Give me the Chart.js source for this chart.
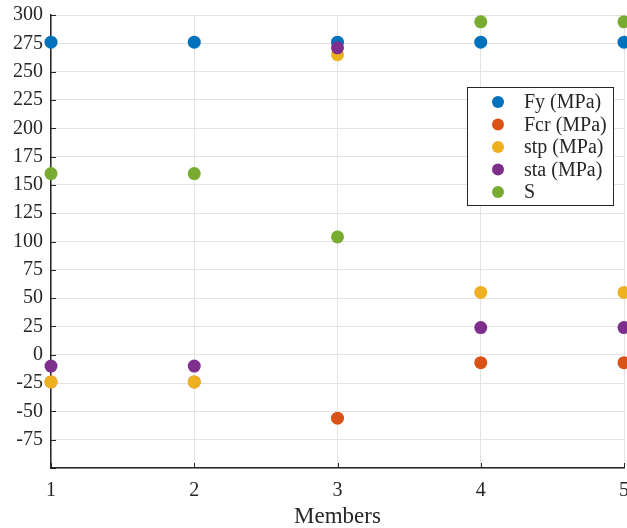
<!DOCTYPE html>
<html>
<head>
<meta charset="utf-8">
<script src="https://cdn.jsdelivr.net/npm/chart.js@4"></script>
<style>
  html, body { margin: 0; padding: 0; background: #fff; }
  #wrap { width: 627px; height: 528px; }
</style>
</head>
<body>
<div id="wrap"><canvas id="memberChart" width="627" height="528"></canvas></div>
<script>
const members = [1, 2, 3, 4, 5];
const fy = [276, 276, 276, 276, 276];
const fcr = [-24, -24, -56, -7, -7];
const stp = [-24, -24, 265, 55, 55];
const sta = [-10, -10, 271, 24, 24];
const sVals = [160, 160, 104, 294, 294];

const seriesNames = ["Fy (MPa)", "Fcr (MPa)", "stp (MPa)", "sta (MPa)", "S"];
const seriesColors = ["#0072BD", "#D95319", "#EDB120", "#7E2F8E", "#77AC30"];
const seriesData = [fy, fcr, stp, sta, sVals];

const FONT = "'Liberation Serif', 'DejaVu Serif', serif";
const TEXT = "#262626";

// tick kecil ke dalam, gaya MATLAB (di bawah titik data)
const innerTicks = {
  id: "innerTicks",
  beforeDatasetsDraw(chart) {
    const { ctx, chartArea, scales } = chart;
    ctx.save();
    ctx.strokeStyle = TEXT;
    ctx.lineWidth = 1;
    ctx.beginPath();
    scales.y.ticks.forEach(t => {
      const py = Math.round(scales.y.getPixelForValue(t.value)) + 0.5;
      ctx.moveTo(chartArea.left, py);
      ctx.lineTo(chartArea.left + 5, py);
    });
    scales.x.ticks.forEach(t => {
      const px = Math.round(scales.x.getPixelForValue(t.value)) + 0.5;
      ctx.moveTo(px, chartArea.bottom);
      ctx.lineTo(px, chartArea.bottom - 5);
    });
    ctx.stroke();
    ctx.restore();
  }
};

// legende di dalam area plot, kanan atas
const boxLegend = {
  id: "boxLegend",
  afterDraw(chart) {
    const ctx = chart.ctx;
    const x = 467, y = 87, w = 146, h = 118;
    ctx.save();
    ctx.fillStyle = "#fff";
    ctx.fillRect(x, y, w, h);
    ctx.strokeStyle = TEXT;
    ctx.lineWidth = 1;
    ctx.strokeRect(x + 0.5, y + 0.5, w, h);
    ctx.font = "20px " + FONT;
    ctx.textBaseline = "middle";
    chart.data.datasets.forEach((ds, i) => {
      const cy = y + 15 + i * 22.5;
      ctx.fillStyle = ds.backgroundColor;
      ctx.beginPath();
      ctx.arc(x + 31, cy, 6, 0, Math.PI * 2);
      ctx.fill();
      ctx.fillStyle = TEXT;
      ctx.fillText(ds.label, x + 57, cy + 1);
    });
    ctx.restore();
  }
};

const memberChart = new Chart(document.getElementById("memberChart"), {
  type: "scatter",
  data: {
    datasets: seriesNames.map((name, i) => ({
      label: name,
      data: members.map((m, j) => ({ x: m, y: seriesData[i][j] })),
      backgroundColor: seriesColors[i],
      borderColor: seriesColors[i],
      pointRadius: 6.5,
      pointHoverRadius: 6.5,
      borderWidth: 0,
      // seri terakhir digambar paling atas (seperti MATLAB)
      order: seriesNames.length - i
    }))
  },
  options: {
    responsive: false,
    animation: false,
    clip: false,
    layout: { autoPadding: false, padding: { top: 15, right: 3, left: 0, bottom: 0 } },
    plugins: {
      legend: { display: false },
      tooltip: { enabled: false }
    },
    scales: {
      x: {
        type: "linear",
        min: 1,
        max: 5,
        ticks: {
          stepSize: 1,
          color: TEXT,
          padding: 11,
          font: { family: FONT, size: 20 }
        },
        grid: { color: "#e3e3e3", drawTicks: false },
        border: { color: TEXT, width: 1.5 },
        title: {
          display: true,
          text: "Members",
          color: TEXT,
          padding: { top: 0, bottom: -3 },
          font: { family: FONT, size: 23 }
        },
        afterFit(scale) {
          scale.height = 60;
          scale.paddingLeft = 0;
          scale.paddingRight = 0;
        }
      },
      y: {
        min: -100,
        max: 300,
        ticks: {
          stepSize: 25,
          color: TEXT,
          padding: 8,
          font: { family: FONT, size: 20 },
          callback: v => (v === -100 ? "" : v)
        },
        grid: { color: "#e3e3e3", drawTicks: false },
        border: { color: TEXT, width: 1.5 },
        afterFit(scale) {
          scale.width = 51;
          scale.paddingTop = 0;
          scale.paddingBottom = 0;
        }
      }
    }
  },
  plugins: [innerTicks, boxLegend]
});
</script>
</body>
</html>
